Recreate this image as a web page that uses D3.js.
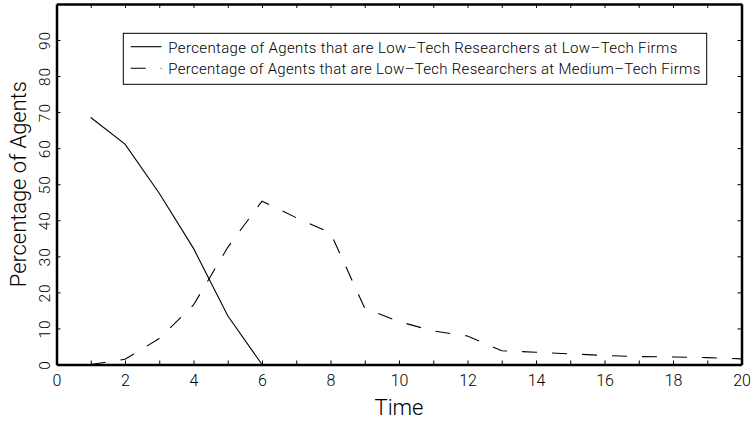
<!DOCTYPE html>
<html>
<head>
<meta charset="utf-8">
<script src="https://cdn.jsdelivr.net/npm/d3@7"></script>
<style>
  html, body { margin: 0; padding: 0; background: #fff; }
  svg { display: block; }
  text { font-family: Roboto, "Liberation Sans", Arial, sans-serif; font-weight: 300; fill: #000; }
</style>
</head>
<body>
<svg id="chart" width="754" height="426"></svg>
<script>
// ---- data ----
const times = [1, 2, 3, 4, 5, 6, 7, 8, 9, 10, 11, 12, 13, 14, 15, 16, 17, 18, 19, 20];
const lowTechAtLowTech = [68.5, 61.1, 47.5, 32.2, 13.5, 0];
const lowTechAtMediumTech = [0, 1.45, 7.2, 16.5, 32.5, 45.3, 40.7, 36.5, 15.6, 11.9, 9.3, 7.9, 3.8, 3.4, 2.95, 2.5, 2.2, 2.1, 1.9, 1.55];
const seriesNames = [
  "Percentage of Agents that are Low–Tech Researchers at Low–Tech Firms",
  "Percentage of Agents that are Low–Tech Researchers at Medium–Tech Firms"
];
const xTickValues = d3.range(0, 21, 1);
const xTickLabels = ["0", "2", "4", "6", "8", "10", "12", "14", "16", "18", "20"];
const yTickValues = [0, 10, 20, 30, 40, 50, 60, 70, 80, 90];
const xTitle = "Time";
const yTitle = "Percentage of Agents";

// ---- layout ----
const svg = d3.select("#chart");
const mLeft = 56.5, mRight = 741.5, mTop = 3.9, mBottom = 364.5;
const x = d3.scaleLinear().domain([0, 20]).range([mLeft, mRight]);
const y = d3.scaleLinear().domain([0, 100]).range([mBottom, mTop]);

const series = [
  { name: seriesNames[0], values: lowTechAtLowTech, dash: null, textLen: 509 },
  { name: seriesNames[1], values: lowTechAtMediumTech, dash: "15,15", textLen: 532 }
];

const line = d3.line().x(d => x(d[0])).y(d => y(d[1]));

svg.append("g").selectAll("path")
  .data(series)
  .join("path")
  .attr("d", s => line(s.values.map((v, i) => [times[i], v])))
  .attr("fill", "none")
  .attr("stroke", "#000")
  .attr("stroke-width", 1.1)
  .attr("stroke-dasharray", s => s.dash);

// ---- axes ----
function styleAxis(g) {
  g.select(".domain").attr("stroke", "#000").attr("stroke-width", 2.5);
  g.selectAll(".tick line").attr("stroke", "#000").attr("stroke-width", 1);
}
const FONT = "Roboto, Liberation Sans, Arial, sans-serif";

const xAxis = d3.axisBottom(x).tickValues(xTickValues)
  .tickSizeInner(-4).tickSizeOuter(0).tickPadding(10)
  .tickFormat(d => xTickLabels.includes(String(d)) ? String(d) : "");
const gx = svg.append("g").attr("transform", `translate(0,${mBottom})`).call(xAxis);
styleAxis(gx);
gx.selectAll("text").attr("font-size", 16).attr("font-family", FONT).attr("font-weight", 300);

const xAxisTop = d3.axisTop(x).tickValues(xTickValues)
  .tickSizeInner(-4).tickSizeOuter(0).tickFormat("");
const gxt = svg.append("g").attr("transform", `translate(0,${mTop})`).call(xAxisTop);
styleAxis(gxt);

const yAxis = d3.axisLeft(y).tickValues(yTickValues)
  .tickSizeInner(-4).tickSizeOuter(0).tickFormat(d3.format("d"));
const gy = svg.append("g").attr("transform", `translate(${mLeft},0)`).call(yAxis);
styleAxis(gy);
gy.selectAll("text")
  .attr("x", 0).attr("dy", 0)
  .attr("text-anchor", "middle")
  .attr("font-size", 15.5)
  .attr("font-family", FONT).attr("font-weight", 300)
  .attr("letter-spacing", 1)
  .attr("transform", "translate(-6.5,0) rotate(-90)");

const yAxisRight = d3.axisRight(y).tickValues(yTickValues)
  .tickSizeInner(-4).tickSizeOuter(0).tickFormat("");
const gyr = svg.append("g").attr("transform", `translate(${mRight},0)`).call(yAxisRight);
styleAxis(gyr);

// ---- axis titles ----
svg.append("text")
  .attr("x", (mLeft + mRight) / 2).attr("y", 415)
  .attr("text-anchor", "middle")
  .attr("font-size", 22)
  .text(xTitle);

svg.append("text")
  .attr("transform", `translate(26,${(mTop + mBottom) / 2}) rotate(-90)`)
  .attr("text-anchor", "middle")
  .attr("font-size", 22)
  .attr("textLength", 206).attr("lengthAdjust", "spacing")
  .text(yTitle);

// ---- legend ----
const legend = svg.append("g");
legend.append("rect")
  .attr("x", 123.3).attr("y", 33.3)
  .attr("width", 583.4).attr("height", 51)
  .attr("fill", "#fff").attr("stroke", "#000").attr("stroke-width", 1);

const rows = legend.selectAll("g.row")
  .data(series)
  .join("g")
  .attr("class", "row")
  .attr("transform", (d, i) => `translate(0,${i * 21.6})`);

rows.append("line")
  .attr("x1", 130.7).attr("x2", 161.5)
  .attr("y1", 46.7).attr("y2", 46.7)
  .attr("stroke", "#000").attr("stroke-width", 1.1)
  .attr("stroke-dasharray", d => d.dash);

rows.append("text")
  .attr("x", 168.3).attr("y", 52.6)
  .attr("font-size", 15)
  .attr("textLength", d => d.textLen).attr("lengthAdjust", "spacing")
  .text(d => d.name);
</script>
</body>
</html>
